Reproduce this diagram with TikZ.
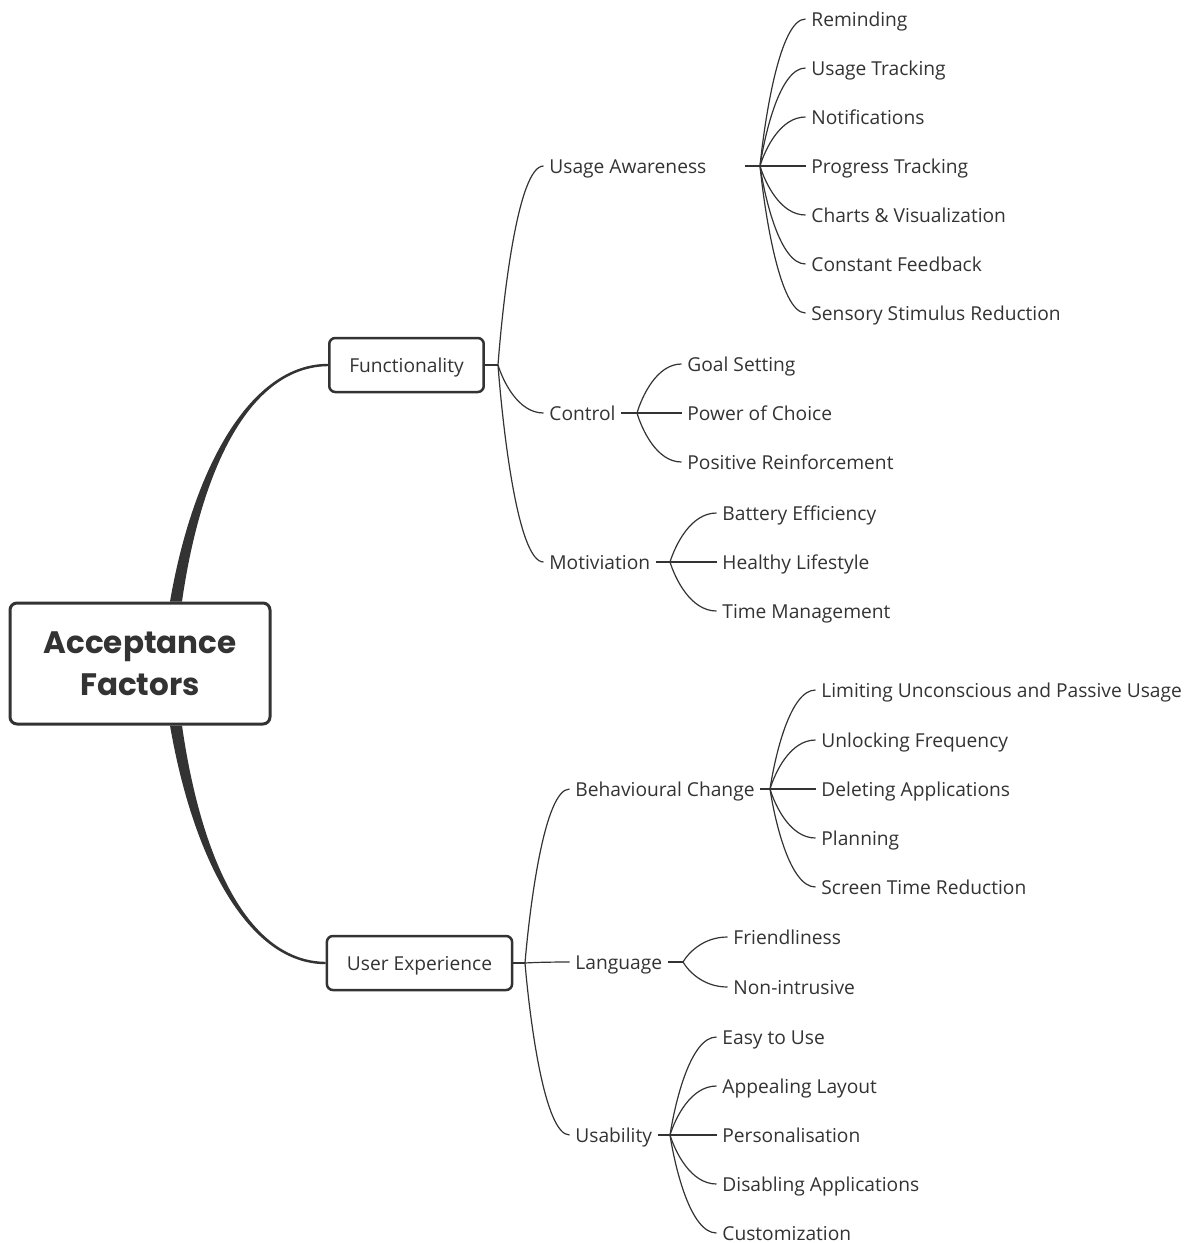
\documentclass[tikz,border=0pt]{standalone}
\usepackage{fontspec}
\setmainfont{Open Sans}
\newfontfamily\rootfont{Poppins}
\usetikzlibrary{calc}
\definecolor{ink}{HTML}{333333}
\newcommand*{\Leaves}[2]{% #1 = x, #2 = list of name/y/text
  \foreach \n/\y/\t in {#2} {
    \node [leaf] (\n) at (#1,\y) {\t};
    }%
}
\newcommand*{\Fork}[3]{% #1 = parent, #2 = fork, #3 = list of children
  \draw [branch] (#1.east) -- (#2);
  \foreach \c in {#3} {
    \draw [branch] let \p1=(#2), \p2=(\c.west) in
      (#2) .. controls ({\x1+0.11*(\x2-\x1)},{\y1+(\y2-\y1)/3})
      and ({\x1+0.44*(\x2-\x1)},\y2) .. (\c.west);
    }%
}

\begin{document}
\begin{tikzpicture}[x=0.5pt,y=-0.5pt,
    leaf/.style={anchor=west, text=ink, inner xsep=2.75pt, inner ysep=0pt,
      text height=7.8pt, text depth=0pt, font=\fontsize{9.6}{11}\selectfont},
    topic/.style={draw=ink, line width=1.25pt, rounded corners=3pt, text=ink,
      minimum height=27pt, inner xsep=10pt, inner ysep=0pt,
      text height=7.8pt, text depth=0pt, font=\fontsize{9.6}{11}\selectfont},
    branch/.style={draw=ink, line width=0.6pt}]
        \useasboundingbox (0,0) rectangle (1192,1243);
        % main topics
        \node [draw=ink, line width=1.5pt, rounded corners=3.5pt, fill=white, text=ink,
          minimum width=130pt, minimum height=60.5pt, align=center,
          font=\rootfont\bfseries\fontsize{15.5}{21}\selectfont]
          (root) at (140,663.5) {Acceptance\\Factors};
        \node [topic] (func) at (406.5,365) {Functionality};
        \node [topic] (ue) at (419.5,963) {User Experience};
        \fill [ink] ($(root.north)+(30,0)$) .. controls ($(root.north)+(53,-133)$)
          and ($(func.west)+(-78,-1.2)$) .. ($(func.west)+(0,-1.2)$)
          -- ($(func.west)+(0,1.2)$) .. controls ($(func.west)+(-78,2)$)
          and ($(root.north)+(61,-133)$) .. ($(root.north)+(42,0)$) -- cycle;
        \fill [ink] ($(root.south)+(30,0)$) .. controls ($(root.south)+(53,133)$)
          and ($(ue.west)+(-78,1.2)$) .. ($(ue.west)+(0,1.2)$)
          -- ($(ue.west)+(0,-1.2)$) .. controls ($(ue.west)+(-78,-2)$)
          and ($(root.south)+(61,133)$) .. ($(root.south)+(42,0)$) -- cycle;
        % subtopics
        \node [leaf] (ua) at (543.5,166) {\makebox[95pt][l]{Usage Awareness}};
        \Leaves{543.5}{ctrl/413/Control, mot/562/Motiviation}
        \Leaves{569.5}{beh/789/Behavioural Change, lang/962/Language, usab/1135/Usability}
        % leaves
        \Leaves{805.5}{ua1/19/Reminding, ua2/68/Usage Tracking, ua3/117/Notifications,
          ua4/166/Progress Tracking, ua5/215/Charts \& Visualization,
          ua6/264/Constant Feedback, ua7/313/Sensory Stimulus Reduction}
        \Leaves{681.5}{ctrl1/364/Goal Setting, ctrl2/413/Power of Choice,
          ctrl3/462/Positive Reinforcement}
        \Leaves{716.5}{mot1/513/Battery Efficiency, mot2/562/Healthy Lifestyle,
          mot3/611/Time Management}
        \Leaves{815.5}{beh1/690/Limiting Unconscious and Passive Usage,
          beh2/740/Unlocking Frequency, beh3/789/Deleting Applications,
          beh4/838/Planning, beh5/887/Screen Time Reduction}
        \Leaves{727.5}{lang1/937/Friendliness, lang2/987/Non-intrusive}
        \Leaves{716.5}{usab1/1037/Easy to Use, usab2/1086/Appealing Layout,
          usab3/1135/Personalisation, usab4/1184/Disabling Applications,
          usab5/1233/Customization}
        % forks
        \coordinate (funcfork) at (498,365);
        \coordinate (uefork) at (525,963);
        \coordinate (uafork) at (760,166);
        \coordinate (ctrlfork) at (637,413);
        \coordinate (motfork) at (670,562);
        \coordinate (behfork) at (770,789);
        \coordinate (langfork) at (683,962);
        \coordinate (usabfork) at (670,1135);
        \Fork{func}{funcfork}{ua,ctrl,mot}
        \Fork{ue}{uefork}{beh,lang,usab}
        \Fork{ua}{uafork}{ua1,ua2,ua3,ua4,ua5,ua6,ua7}
        \Fork{ctrl}{ctrlfork}{ctrl1,ctrl2,ctrl3}
        \Fork{mot}{motfork}{mot1,mot2,mot3}
        \Fork{beh}{behfork}{beh1,beh2,beh3,beh4,beh5}
        \Fork{lang}{langfork}{lang1,lang2}
        \Fork{usab}{usabfork}{usab1,usab2,usab3,usab4,usab5}
    \end{tikzpicture}
\end{document}
